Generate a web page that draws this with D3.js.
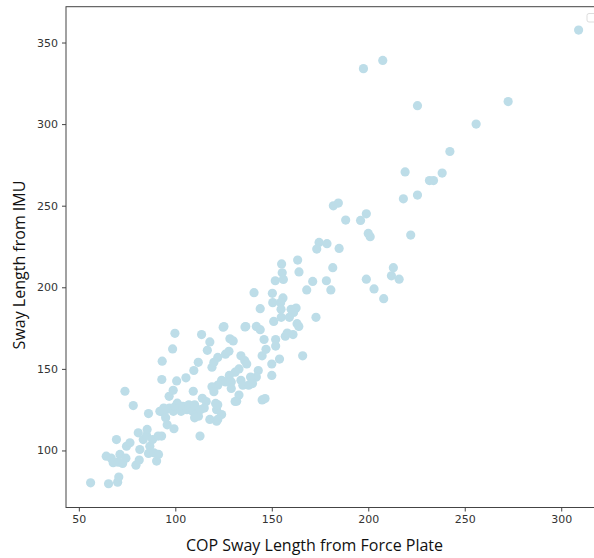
<!DOCTYPE html>
<html>
<head>
<meta charset="utf-8">
<script src="https://cdn.jsdelivr.net/npm/d3@7"></script>
<style>
	body { margin: 0; background: #fff; }
	svg { display: block; }
	.axis text { font-family: "DejaVu Sans", sans-serif; font-size: 11px; fill: #333; }
	.axis line, .axis path { stroke: #444; }
	.label { font-family: "Open Sans", sans-serif; font-size: 16px; fill: #111; }
</style>
</head>
<body>
<svg width="594" height="558"></svg>
<script>
// values
const cop = [
	309, 207.5, 197.5, 225.5, 272.5, 255.9, 242.3, 219.1, 238.3, 231.7, 233.8, 225.5, 218.2,
	181.9, 184.5, 188.3, 174.5, 178.6, 173.3, 184.9, 155.1, 163.4, 155.4, 164.1, 181.6, 151.8,
	156, 171.2, 178.3, 168.1, 180.6, 140.8, 150.3, 155.8, 150.5, 154.6, 144, 154.8, 160, 162.6,
	161.3, 172.9, 154.9, 159.1, 151, 163.1, 125.2, 136.5,
	196, 199, 200, 201, 222, 213, 212, 216, 199, 203, 208,
	144, 142, 146, 147, 152, 157, 161, 166, 154, 150, 145, 143, 142, 139, 145, 146.5, 150, 152, 158, 164,
	113.6, 117.9, 116.6, 111.9, 109.6, 105.5, 100.7, 109.3, 96.8, 98.9, 99.8, 98.6, 93.2, 93,
	93.7, 95.5, 95.8, 99.3, 112.8, 117.9, 121.4, 131.8, 120.9, 121.4,
	97, 99, 100, 101, 102, 103, 104, 106, 107, 108, 109, 110, 111, 110, 112, 113, 114, 116, 115,
	124.8, 136.1, 128.3, 130, 127.8, 122, 126, 119, 120, 134, 136, 137, 133, 131, 128, 124, 122,
	126, 129, 134, 135, 138, 119, 120, 133, 131, 122, 124, 122, 129, 140,
	56.1, 65.4, 70.1, 70.7, 64.2, 66.8, 67.8, 71.3, 70.4, 72.7, 74.4, 69.5, 74.7, 76.5, 73.9,
	78.2, 79.6, 81.3, 81.6, 80.8, 83.4, 85.1, 85.4, 86.8, 86.1, 90.3, 88.9, 91.3, 88.2, 92.9,
	91.1, 86.1, 92, 94, 95
];
const imu = [
	357.6, 339, 334, 311.3, 313.8, 300, 283.2, 270.7, 270, 265.4, 265.4, 256.5, 254.2,
	249.9, 251.6, 241.2, 227.5, 226.7, 223.4, 223.8, 214.3, 216.7, 208.9, 209.4, 212, 204,
	204.8, 203.6, 204, 198.4, 198.4, 196.7, 196.3, 193.5, 190.6, 190.6, 186.9, 186.5, 186.5, 187.3,
	184.6, 181.6, 181.6, 181.6, 179.1, 177.7, 175.9, 175.9,
	241, 245, 233, 231, 232, 212, 207, 205, 205, 199, 193,
	174, 176, 168, 162, 164, 170, 171, 158, 156, 153, 158, 149, 145, 145, 131, 131.8, 146, 168, 172, 176,
	171, 166.5, 161.4, 154, 149, 144.5, 142.6, 136.3, 133.2, 136.9, 171.8, 162.2, 154.7, 143.5,
	123.4, 125.1, 115.7, 113.3, 108.8, 119, 117.9, 130.2, 128.8, 125,
	126, 124, 127, 129, 126, 124, 127, 125, 128, 126, 124, 128, 122, 120, 121, 125, 132, 130, 126,
	175.5, 175.7, 168.4, 167.1, 160.8, 157, 159, 151, 154, 158, 155, 153, 150, 148, 146, 143, 140,
	142, 142, 143, 140, 140, 139, 136, 134, 130, 128, 122, 119, 138, 141,
	80.2, 79.6, 80.6, 83.7, 96.5, 95.3, 92.5, 97.6, 92.8, 92, 95.3, 106.7, 102.6, 104.7, 136.3,
	127.5, 91, 94.1, 100.6, 110.8, 106.7, 109.2, 112.9, 102.6, 98.2, 93.5, 98.6, 97.6, 106.7, 108.8,
	108.8, 122.6, 124, 126, 120
];
const xTicks = [50, 100, 150, 200, 250, 300];
const yTicks = [100, 150, 200, 250, 300, 350];

const svg = d3.select("svg");
const x = d3.scaleLinear().domain([43.35, 321.65]).range([66, 603]);
const y = d3.scaleLinear().domain([65.05, 371.95]).range([507.5, 6.7]);

const points = cop.map((d, i) => ({ x: d, y: imu[i] }));

svg.append("g")
	.selectAll("circle")
	.data(points)
	.join("circle")
	.attr("cx", (d) => x(d.x))
	.attr("cy", (d) => y(d.y))
	.attr("r", 4.6)
	.attr("fill", "#bddde8");

// frame (right edge falls outside the window)
svg.append("rect")
	.attr("x", 66)
	.attr("y", 6.7)
	.attr("width", 603 - 66)
	.attr("height", 507.5 - 6.7)
	.attr("fill", "none")
	.attr("stroke", "#444")
	.attr("stroke-width", 1);

svg.append("g")
	.attr("class", "axis")
	.attr("transform", "translate(0,507.5)")
	.call(d3.axisBottom(x).tickValues(xTicks).tickSize(4).tickPadding(4))
	.call((g) => g.select(".domain").remove());

svg.append("g")
	.attr("class", "axis")
	.attr("transform", "translate(66,0)")
	.call(d3.axisLeft(y).tickValues(yTicks).tickSize(4).tickPadding(4))
	.call((g) => g.select(".domain").remove());

// clipped legend frame in the corner
svg.append("rect")
	.attr("x", 587)
	.attr("y", 13.5)
	.attr("width", 20)
	.attr("height", 8.5)
	.attr("rx", 2)
	.attr("fill", "#fff")
	.attr("stroke", "#ddd");

svg.append("text")
	.attr("class", "label")
	.attr("x", 314.5)
	.attr("y", 551)
	.attr("text-anchor", "middle")
	.text("COP Sway Length from Force Plate");

svg.append("text")
	.attr("class", "label")
	.attr("transform", "translate(25,265) rotate(-90)")
	.attr("text-anchor", "middle")
	.text("Sway Length from IMU");
</script>
</body>
</html>
